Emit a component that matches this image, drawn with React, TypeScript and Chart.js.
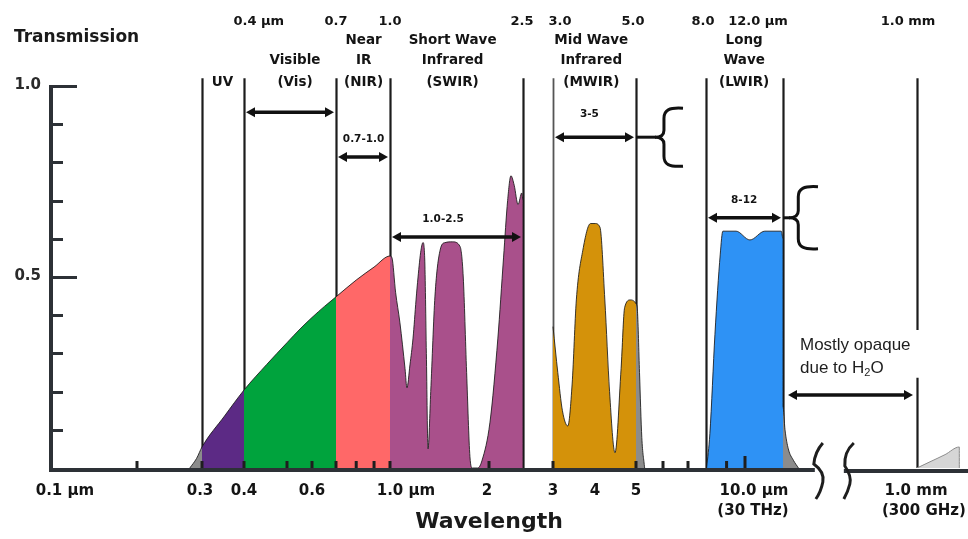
import { useEffect, useRef } from 'react';
import { Chart, registerables } from 'chart.js';

Chart.register(...registerables);

// Wavelength axis (µm) -> axis stop (non-uniform, roughly logarithmic, with a break after 14 µm)
const axisWl = [0.1, 0.2, 0.3, 0.4, 0.5, 0.6, 0.7, 1.0, 2.0, 2.5, 3.0, 4.0, 5.0, 6.0, 7.0, 8.0, 10.0, 12.0, 14.0, 1000, 1500];
const axisStop = [0, 88, 153, 195, 238, 263, 287, 341, 440, 474, 504, 546, 587, 614, 639, 657, 696, 734, 759, 868, 919];

// Transmission (wavelength µm, transmission 0..1), split by band
const uvTailWl = [0.278, 0.29];
const uvTailT = [0, 0.025];
const uvWl = [0.3, 0.35];
const uvT = [0.055, 0.136];
const visWl = [0.4, 0.45, 0.5, 0.55, 0.6, 0.65];
const visT = [0.204, 0.271, 0.328, 0.364, 0.394, 0.423];
const nirWl = [0.7, 0.8, 0.9];
const nirT = [0.448, 0.492, 0.526];
const swirWl = [1.0, 1.014, 1.04, 1.072, 1.111, 1.126, 1.15, 1.175, 1.2, 1.217, 1.242, 1.26, 1.275, 1.29, 1.305, 1.33, 1.37, 1.42, 1.47, 1.55, 1.633, 1.67, 1.71, 1.75, 1.78, 1.85, 1.905, 2.013, 2.12, 2.2, 2.26, 2.31, 2.36, 2.42, 2.48, 2.5, 2.5];
const swirT = [0.555, 0.55, 0.46, 0.38, 0.26, 0.21, 0.27, 0.34, 0.44, 0.5, 0.57, 0.59, 0.55, 0.3, 0.05, 0.2, 0.45, 0.57, 0.59, 0.592, 0.58, 0.5, 0.25, 0.03, 0, 0, 0.02, 0.12, 0.34, 0.55, 0.7, 0.765, 0.74, 0.69, 0.72, 0.7, 0];
const mwirWl = [3.0, 3.1, 3.2, 3.32, 3.42, 3.52, 3.68, 3.88, 4.0, 4.11, 4.22, 4.33, 4.46, 4.61, 4.7, 4.85, 5.0];
const mwirT = [0.37, 0.25, 0.15, 0.11, 0.22, 0.44, 0.57, 0.64, 0.64, 0.63, 0.44, 0.2, 0.04, 0.26, 0.42, 0.44, 0.43];
const mwirTailWl = [5.05, 5.12, 5.2, 5.3];
const mwirTailT = [0.41, 0.25, 0.08, 0];
const lwirWl = [8.03, 8.18, 8.42, 8.68, 8.81, 9.5, 10.24, 11.0, 11.9, 12.0];
const lwirT = [0, 0.09, 0.35, 0.56, 0.62, 0.62, 0.597, 0.62, 0.62, 0.6];
const lwirTailWl = [12.0, 12.15, 12.4, 12.8, 13.2];
const lwirTailT = [0.16, 0.1, 0.05, 0.02, 0];
const mmWl = [1000, 1100, 1250, 1400, 1400];
const mmT = [0, 0.015, 0.035, 0.055, 0];

// Band boundaries (µm)
const boundaryWl = [0.3, 0.4, 0.7, 1.0, 2.5, 3.0, 5.0, 8.0, 12.0, 1000];
const yMinorTicks = [0.1, 0.2, 0.3, 0.4, 0.6, 0.7, 0.8, 0.9];
const yMajorTicks = [1.0, 0.5];
const xMinorTicks = [0.2, 0.3, 0.4, 0.5, 0.6, 0.7, 0.8, 0.9, 1.0, 2.0, 3.0, 5.0, 6.0, 7.0, 9.0, 10.0];

const GRAY = '#8c8c8c';
const PURPLE = '#5c2a85';
const GREEN = '#00a33d';
const SALMON = '#ff6868';
const MAGENTA = '#a9508b';
const ORANGE = '#d4920a';
const BLUE = '#2e92f5';
const LIGHTGRAY = '#d6d6d6';

function warp(w: number): number {
  const n = axisWl.length;
  if (w <= axisWl[0]) return axisStop[0];
  for (let i = 0; i < n - 1; i++) {
    const a = axisWl[i], b = axisWl[i + 1];
    if (w <= b) {
      const f = Math.log(w / a) / Math.log(b / a);
      return axisStop[i] + f * (axisStop[i + 1] - axisStop[i]);
    }
  }
  return axisStop[n - 1];
}

const FONT = '"DejaVu Sans", sans-serif';
const ARIAL = '"Liberation Sans", Arial, sans-serif';

// one continuous curve; fill colour changes at the given band edges
function band(wl: number[], t: number[], edges: number[], colors: string[], border = 'rgba(25,25,25,0.85)') {
  const edgePos = edges.map(warp);
  const colorAt = (x: number) => {
    let k = 0;
    edgePos.forEach((e) => { if (x >= e - 1e-6) k++; });
    return colors[k];
  };
  return {
    data: wl.map((w, i) => ({ x: warp(w), y: t[i] })),
    backgroundColor: colors[0],
    borderColor: border,
    borderWidth: 1,
    fill: 'origin',
    pointRadius: 0,
    cubicInterpolationMode: 'monotone' as const,
    segment: edges.length ? { backgroundColor: (c: any) => colorAt(c.p0.parsed.x) } : undefined,
  };
}

export default function App() {
  const ref = useRef<HTMLCanvasElement>(null);

  useEffect(() => {
    if (!ref.current) return;

    const overlay = {
      id: 'overlay',
      beforeDatasetsDraw(chart: any) {
        const ctx: CanvasRenderingContext2D = chart.ctx;
        const xs = chart.scales.x, ys = chart.scales.y;
        const px = (w: number) => xs.getPixelForValue(warp(w));
        const py = (t: number) => ys.getPixelForValue(t);
        ctx.save();
        boundaryWl.forEach((w) => {
          ctx.lineWidth = w === 3.0 ? 1.8 : 2.2;
          ctx.strokeStyle = w === 3.0 ? '#555' : '#1c1c1c';
          const x = Math.round(px(w)) + 0.5;
          ctx.beginPath();
          if (w === 1000) {
            ctx.moveTo(x, py(1.02));
            ctx.lineTo(x, py(0.361));
            ctx.moveTo(x, py(0.236));
            ctx.lineTo(x, py(0));
          } else {
            ctx.moveTo(x, py(1.02));
            ctx.lineTo(x, py(0));
          }
          ctx.stroke();
        });
        ctx.restore();
      },
      afterDatasetsDraw(chart: any) {
        const ctx: CanvasRenderingContext2D = chart.ctx;
        const xs = chart.scales.x, ys = chart.scales.y;
        const area = chart.chartArea;
        const px = (w: number) => xs.getPixelForValue(warp(w));
        const py = (t: number) => ys.getPixelForValue(t);
        ctx.save();

        const text = (s: string, x: number, y: number, size: number, align: CanvasTextAlign = 'center', weight = 'bold', family = FONT, color = '#141414') => {
          ctx.font = `${weight} ${size}px ${family}`;
          ctx.fillStyle = color;
          ctx.textAlign = align;
          ctx.textBaseline = 'middle';
          ctx.fillText(s, x, y);
        };
        const numUnit = (num: string, unit: string, x: number, y: number, size: number) => {
          ctx.font = `bold ${size}px ${FONT}`;
          const w = ctx.measureText(num).width;
          text(num + unit, x - w / 2, y, size, 'left');
        };

        // axes
        const axisColor = '#2d3136';
        const b1 = px(13.9) + 4;
        const b2 = b1 + 33;
        ctx.strokeStyle = axisColor;
        ctx.lineWidth = 4;
        ctx.beginPath();
        ctx.moveTo(area.left + 2, area.top - 1);
        ctx.lineTo(area.left + 2, area.bottom + 4);
        ctx.stroke();
        ctx.beginPath();
        ctx.moveTo(area.left, area.bottom + 2);
        ctx.lineTo(b1 + 4, area.bottom + 2);
        ctx.stroke();
        ctx.beginPath();
        ctx.moveTo(b2, area.bottom + 3);
        ctx.lineTo(area.right, area.bottom + 3);
        ctx.stroke();

        // y ticks
        ctx.lineWidth = 3;
        yMinorTicks.forEach((t) => {
          const y = Math.round(py(t)) + 0.5;
          ctx.beginPath();
          ctx.moveTo(area.left + 4, y);
          ctx.lineTo(area.left + 14, y);
          ctx.stroke();
        });
        yMajorTicks.forEach((t) => {
          const y = Math.round(py(t)) + 0.5;
          ctx.beginPath();
          ctx.moveTo(area.left + 4, y);
          ctx.lineTo(area.left + 28, y);
          ctx.stroke();
          text(t.toFixed(1), area.left - 8, y - 1, 15, 'right', 'bold', FONT, '#2a2a2a');
        });

        // x minor ticks
        ctx.strokeStyle = '#1e1e1e';
        ctx.lineWidth = 3;
        xMinorTicks.forEach((w) => {
          const x = px(w);
          ctx.beginPath();
          ctx.moveTo(x, area.bottom);
          ctx.lineTo(x, area.bottom - (w === 10 ? 12 : 7));
          ctx.stroke();
        });

        // axis break squiggles
        ctx.strokeStyle = '#1e1e1e';
        ctx.lineWidth = 3;
        ctx.beginPath();
        ctx.moveTo(b1 + 12, area.bottom - 25);
        ctx.quadraticCurveTo(b1 + 4, area.bottom - 16, b1 + 3, area.bottom - 4);
        ctx.quadraticCurveTo(b1 + 14, area.bottom + 4, b1 + 12, area.bottom + 14);
        ctx.quadraticCurveTo(b1 + 10, area.bottom + 24, b1 + 5, area.bottom + 31);
        ctx.stroke();
        ctx.beginPath();
        ctx.moveTo(b2 + 10, area.bottom - 25);
        ctx.quadraticCurveTo(b2, area.bottom - 16, b2 + 1, area.bottom - 2);
        ctx.quadraticCurveTo(b2 + 8, area.bottom + 8, b2 + 6, area.bottom + 16);
        ctx.quadraticCurveTo(b2 + 4, area.bottom + 24, b2, area.bottom + 31);
        ctx.stroke();

        // arrows
        const arrow = (x1: number, x2: number, y: number) => {
          const h = 9, hw = 5;
          ctx.strokeStyle = '#111';
          ctx.fillStyle = '#111';
          ctx.lineWidth = 3.5;
          ctx.beginPath();
          ctx.moveTo(x1 + h - 1, y);
          ctx.lineTo(x2 - h + 1, y);
          ctx.stroke();
          ctx.beginPath();
          ctx.moveTo(x1, y);
          ctx.lineTo(x1 + h, y - hw);
          ctx.lineTo(x1 + h, y + hw);
          ctx.closePath();
          ctx.fill();
          ctx.beginPath();
          ctx.moveTo(x2, y);
          ctx.lineTo(x2 - h, y - hw);
          ctx.lineTo(x2 - h, y + hw);
          ctx.closePath();
          ctx.fill();
        };
        const brace = (xTip: number, yMid: number, w: number, hgt: number) => {
          const xs2 = xTip + w * 0.32;
          const top = yMid - hgt / 2, bot = yMid + hgt / 2;
          ctx.strokeStyle = '#111';
          ctx.lineWidth = 3;
          ctx.beginPath();
          ctx.moveTo(xTip + w, top);
          ctx.bezierCurveTo(xTip + w * 0.5, top - 1, xs2, top + 2, xs2, top + 10);
          ctx.lineTo(xs2, yMid - 7);
          ctx.quadraticCurveTo(xs2, yMid, xTip, yMid);
          ctx.quadraticCurveTo(xs2, yMid, xs2, yMid + 7);
          ctx.lineTo(xs2, bot - 10);
          ctx.bezierCurveTo(xs2, bot - 2, xTip + w * 0.5, bot + 1, xTip + w, bot);
          ctx.stroke();
        };

        arrow(px(0.4) + 2, px(0.7) - 2, py(0.931));
        arrow(px(0.7) + 2, px(1.0) - 2, py(0.814));
        arrow(px(1.0) + 2, px(2.5) - 2, py(0.605));
        arrow(px(3.0) + 2, px(5.0) - 2, py(0.866));
        ctx.lineWidth = 3;
        ctx.beginPath();
        ctx.moveTo(px(5.0), py(0.866));
        ctx.lineTo(px(5.0) + 20, py(0.866));
        ctx.stroke();
        brace(px(5.0) + 19, py(0.866), 28, 58);
        arrow(px(8.0) + 2, px(12.0) - 2, py(0.655));
        ctx.lineWidth = 3;
        ctx.beginPath();
        ctx.moveTo(px(12.0), py(0.655));
        ctx.lineTo(px(12.0) + 7, py(0.655));
        ctx.stroke();
        brace(px(12.0) + 6, py(0.655), 29, 62);
        arrow(px(12.0) + 5, px(1000) - 4, py(0.191));

        // in-plot labels
        text('0.7-1.0', px(0.84), py(0.861), 10.5);
        text('1.0-2.5', px(1.45), py(0.652), 10.5);
        text('3-5', px(3.85), py(0.927), 10.5);
        text('8-12', px(9.95), py(0.702), 10.5);

        // Mostly opaque note
        const nx = px(12.0) + 17;
        text('Mostly opaque', nx, py(0.322), 17, 'left', 'normal', ARIAL, '#1e1e1e');
        const ny = py(0.262);
        ctx.font = `normal 17px ${ARIAL}`;
        const w1 = ctx.measureText('due to H').width;
        text('due to H', nx, ny, 17, 'left', 'normal', ARIAL, '#1e1e1e');
        text('2', nx + w1, ny + 5, 11, 'left', 'normal', ARIAL, '#1e1e1e');
        ctx.font = `normal 11px ${ARIAL}`;
        const w2 = ctx.measureText('2').width;
        text('O', nx + w1 + w2, ny, 17, 'left', 'normal', ARIAL, '#1e1e1e');

        // header: Transmission
        text('Transmission', 14, 38, 17, 'left', 'bold', FONT, '#1a1a1a');

        // header: boundary values
        const hy = 22;
        numUnit('0.4', ' µm', px(0.4) + 1, hy, 13);
        text('0.7', px(0.7), hy, 13);
        text('1.0', px(1.0), hy, 13);
        text('2.5', px(2.5) - 1, hy, 13);
        text('3.0', px(3.0) + 7, hy, 13);
        text('5.0', px(5.0) - 3, hy, 13);
        text('8.0', px(8.0) - 3, hy, 13);
        text('12.0 µm', px(12.0) - 25, hy, 13);
        text('1.0 mm', px(1000) - 9, hy, 13);

        // header: band names
        const r1 = 40, r2 = 60, r3 = 82, bs = 13.5;
        text('UV', px(0.345), r3, bs);
        text('Visible', px(0.53), r2, bs);
        text('(Vis)', px(0.53), r3, bs);
        text('Near', px(0.84), r1, bs);
        text('IR', px(0.84), r2, bs);
        text('(NIR)', px(0.84), r3, bs);
        text('Short Wave', px(1.55), r1, bs);
        text('Infrared', px(1.55), r2, bs);
        text('(SWIR)', px(1.55), r3, bs);
        text('Mid Wave', px(3.9), r1, bs);
        text('Infrared', px(3.9), r2, bs);
        text('(MWIR)', px(3.9), r3, bs);
        text('Long', px(9.95), r1, bs);
        text('Wave', px(9.95), r2, bs);
        text('(LWIR)', px(9.95), r3, bs);

        // bottom tick labels
        const ly = 491, ls = 15;
        numUnit('0.1', ' µm', px(0.1), ly, ls);
        text('0.3', px(0.3) - 2, ly, ls);
        text('0.4', px(0.4), ly, ls);
        text('0.6', px(0.6), ly, ls);
        numUnit('1.0', ' µm', px(1.0), ly, ls);
        text('2', px(2.0) - 2, ly, ls);
        text('3', px(3.0), ly, ls);
        text('4', px(4.0), ly, ls);
        text('5', px(5.0), ly, ls);
        text('10.0 µm', px(10.0) + 9, ly, ls);
        text('(30 THz)', px(10.0) + 8, ly + 20, ls);
        text('1.0 mm', px(1000) - 1, ly, ls);
        text('(300 GHz)', px(1000) - 35, ly + 20, ls, 'left');

        text('Wavelength', 489, 522, 22, 'center', 'bold', FONT, '#1a1a1a');

        ctx.restore();
      },
    };

    const chart = new Chart(ref.current, {
      type: 'line',
      data: {
        datasets: [
          band(
            [...uvTailWl, ...uvWl, ...visWl, ...nirWl, ...swirWl],
            [...uvTailT, ...uvT, ...visT, ...nirT, ...swirT],
            [0.3, 0.4, 0.7, 1.0],
            [GRAY, PURPLE, GREEN, SALMON, MAGENTA],
          ),
          band([...mwirWl, ...mwirTailWl], [...mwirT, ...mwirTailT], [5.0], [ORANGE, GRAY]),
          band([...lwirWl, ...lwirTailWl], [...lwirT, ...lwirTailT], [12.0], [BLUE, GRAY]),
          band(mmWl, mmT, [], [LIGHTGRAY], '#8a8a8a'),
        ] as any,
      },
      options: {
        responsive: false,
        animation: false,
        layout: { padding: { left: 49, right: 0, top: 86, bottom: 71 } },
        scales: {
          x: { type: 'linear', min: axisStop[0], max: axisStop[axisStop.length - 1], display: false },
          y: { type: 'linear', min: 0, max: 1, display: false },
        },
        plugins: { legend: { display: false }, tooltip: { enabled: false } },
      },
      plugins: [overlay],
    });
    return () => chart.destroy();
  }, []);

  return (
    <div style={{ position: 'fixed', left: 0, top: 0, width: 968, height: 539, background: '#fff' }}>
      <canvas ref={ref} width={968} height={539} style={{ display: 'block' }} />
    </div>
  );
}
